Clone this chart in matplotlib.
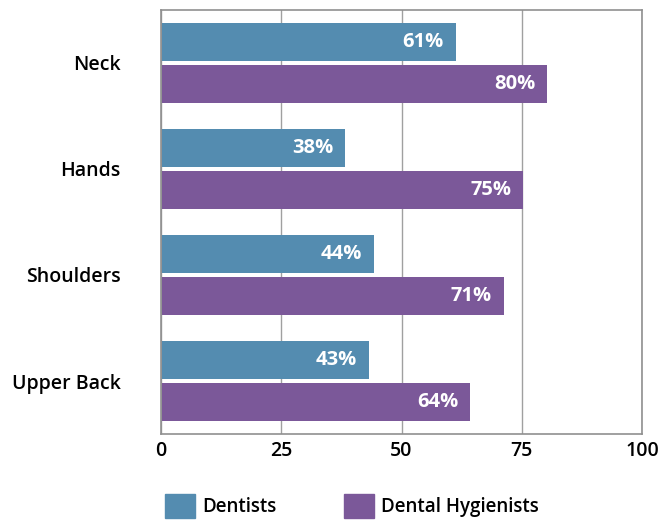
import matplotlib
matplotlib.use("Agg")
import matplotlib.pyplot as plt
from matplotlib.patches import Patch
import numpy as np

plt.rcParams['font.family'] = ['Open Sans', 'DejaVu Sans']

categories = ["Neck", "Hands", "Shoulders", "Upper Back"]
dentists = [61, 38, 44, 43]
hygienists = [80, 75, 71, 64]
series_names = ["Dentists", "Dental Hygienists"]
xticks = [0, 25, 50, 75, 100]

c_blue = "#548CB0"
c_purple = "#7B5899"

fig = plt.figure(figsize=(6.72, 5.21), dpi=100)
ax = fig.add_axes([161/672, 1-434/521, (642-161)/672, (434-10)/521])

y = np.arange(len(categories))
h = 0.358
off = 0.198
b1 = ax.barh(y - off, dentists, height=h, left=0.3, color=c_blue, zorder=3)
b2 = ax.barh(y + off, hygienists, height=h, left=0.3, color=c_purple, zorder=3)

for bars, vals in ((b1, dentists), (b2, hygienists)):
    for bar, v in zip(bars, vals):
        ax.text(v - 2.2, bar.get_y() + bar.get_height()/2, f"{v}%",
                ha='right', va='center', color='white', fontsize=14.5,
                fontweight='bold', zorder=4)

ax.set_xlim(0, 100)
ax.set_ylim(len(categories) - 0.5, -0.5)
ax.set_yticks(y)
ax.set_yticklabels(categories, fontsize=14, fontweight='semibold')
ax.set_xticks(xticks)
ax.set_xticklabels([str(t) for t in xticks], fontsize=14, fontweight='semibold')
ax.tick_params(axis='y', length=0, pad=29)
ax.tick_params(axis='x', length=0, pad=5)
ax.grid(axis='x', color='#A0A0A0', linewidth=1, zorder=0)
for s in ax.spines.values():
    s.set_color('#909090')
    s.set_linewidth(1.2)

handles = [Patch(color=c_blue), Patch(color=c_purple)]
fig.legend(handles, series_names, loc='lower left', bbox_to_anchor=(157/672, -0.009),
           ncol=2, frameon=False, handlelength=1.6, handleheight=1.6,
           handletextpad=0.4, columnspacing=3.6, borderaxespad=0,
           prop={'size': 13.5, 'weight': 'semibold'})

fig.savefig("out.png", dpi=100)
